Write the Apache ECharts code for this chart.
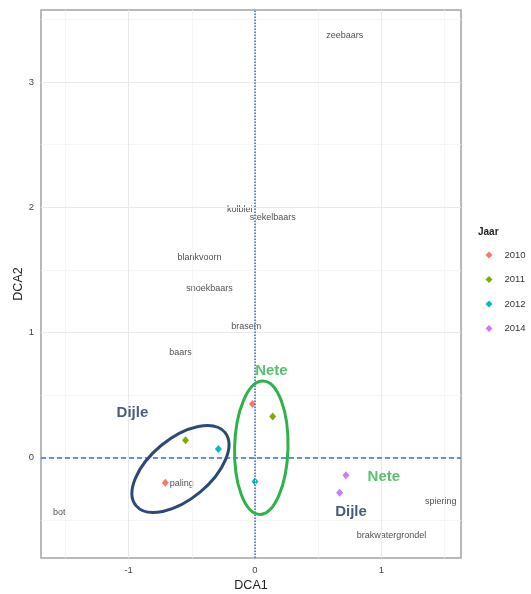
<!DOCTYPE html>
<html>
<head>
<meta charset="utf-8">
<script src="https://cdn.jsdelivr.net/npm/echarts@6/dist/echarts.min.js"></script>
<style>html,body{margin:0;padding:0;background:#fff}</style>
</head>
<body>
<div id="dca-chart-container" style="width: 531px; height: 594px"></div>
<script>
// site scores per year (DCA1, DCA2)
var years = ["2010", "2011", "2012", "2014"];
var sites2010 = [[-0.02, 0.43], [-0.71, -0.20]];
var sites2011 = [[-0.55, 0.14], [0.14, 0.33]];
var sites2012 = [[-0.29, 0.07], [0.00, -0.19]];
var sites2014 = [[0.72, -0.14], [0.67, -0.28]];

// species scores
var speciesNames = ["zeebaars", "kolblei", "stekelbaars", "blankvoorn", "snoekbaars",
  "brasem", "baars", "paling", "bot", "spiering", "brakwatergrondel"];
var speciesX = [0.71, -0.12, 0.14, -0.44, -0.36, -0.07, -0.59, -0.58, -1.55, 1.47, 1.08];
var speciesY = [3.37, 1.98, 1.92, 1.60, 1.35, 1.05, 0.84, -0.21, -0.44, -0.35, -0.62];

// axis ticks / grid
var xTicks = [-1, 0, 1];
var xMinor = [-1.5, -0.5, 0.5, 1.5];
var yTicks = [0, 1, 2, 3];
var yMinor = [-0.5, 0.5, 1.5, 2.5, 3.5];

// river annotations (hand drawn on top of the plot)
var riverNames = ["Dijle", "Nete", "Nete", "Dijle"];
var riverX = [-0.97, 0.13, 1.02, 0.76];
var riverY = [0.36, 0.69, -0.15, -0.43];
var ringNames = ["Dijle", "Nete"];
var ringX = [-0.59, 0.05];
var ringY = [-0.09, 0.08];

var colors = ["#F8766D", "#7CAE00", "#00BFC4", "#C77CFF"];
var riverColor = { Dijle: "#1b2f5e", Nete: "#2fb04c" };
var ringStyle = {
  Dijle: { rx: 57.6, ry: 30.4, angle: 39.5, color: "#2c4a78" },
  Nete: { rx: 26.7, ry: 66.7, angle: -1.5, color: "#2eb24a" },
};
var font = "Liberation Sans, Arial, sans-serif";

function gridLines(values, axis, color, width) {
  return values.map(function (v) {
    var item = { lineStyle: { color: color, width: width, type: "solid" } };
    item[axis] = v;
    return item;
  });
}

var sitesByYear = [sites2010, sites2011, sites2012, sites2014];

var yearSeries = years.map(function (y, i) {
  return {
    name: y,
    type: "scatter",
    symbol: "diamond",
    symbolSize: [7, 8],
    z: 3,
    itemStyle: { color: colors[i], opacity: 1 },
    data: sitesByYear[i],
  };
});

var option = {
  animation: false,
  backgroundColor: "#fff",
  title: {
    text: "Jaar",
    left: 478,
    top: 227,
    padding: 0,
    textStyle: { fontFamily: font, fontSize: 10, fontWeight: "bold", color: "#222" },
  },
  legend: {
    data: years,
    orient: "vertical",
    left: 485.5,
    top: 250,
    padding: 0,
    itemWidth: 7,
    itemHeight: 7,
    itemGap: 14.5,
    textStyle: { fontFamily: font, fontSize: 9.5, color: "#333", padding: [0, 0, 0, 7] },
  },
  grid: {
    left: 41,
    right: 70,
    top: 10,
    bottom: 36,
    outerBoundsMode: "none",
    containLabel: false,
    show: true,
    borderColor: "#a3a3a3",
    borderWidth: 1.5,
    backgroundColor: "#fff",
  },
  xAxis: {
    type: "value",
    min: -1.694,
    max: 1.631,
    name: "DCA1",
    nameLocation: "middle",
    nameGap: 21,
    nameMoveOverlap: false,
    nameTextStyle: { fontFamily: font, fontSize: 12.5, color: "#222" },
    axisLine: { show: false },
    axisTick: { show: true, length: 3, customValues: xTicks, lineStyle: { color: "#444", width: 1 } },
    axisLabel: { customValues: xTicks, margin: 7, fontFamily: font, fontSize: 9.5, color: "#444" },
    splitLine: { show: false },
  },
  yAxis: {
    type: "value",
    min: -0.801,
    max: 3.576,
    name: "DCA2",
    nameLocation: "middle",
    nameGap: 16,
    nameMoveOverlap: false,
    nameTextStyle: { fontFamily: font, fontSize: 12.5, color: "#222" },
    axisLine: { show: false },
    axisTick: { show: true, length: 3, customValues: yTicks, lineStyle: { color: "#444", width: 1 } },
    axisLabel: { customValues: yTicks, margin: 7, fontFamily: font, fontSize: 9.5, color: "#444" },
    splitLine: { show: false },
  },
  series: [
    {
      name: "grid",
      type: "scatter",
      data: [],
      z: 1,
      markLine: {
        silent: true,
        symbol: "none",
        label: { show: false },
        data: []
          .concat(gridLines(xMinor, "xAxis", "#f4f4f4", 0.8))
          .concat(gridLines(yMinor, "yAxis", "#f4f4f4", 0.8))
          .concat(gridLines(xTicks, "xAxis", "#e9e9e9", 1))
          .concat(gridLines(yTicks, "yAxis", "#e9e9e9", 1))
          .concat([
            { xAxis: 0, lineStyle: { color: "#3f6fc4", width: 1.6, type: [1.5, 1.5] } },
            { yAxis: 0, lineStyle: { color: "#3f6fc4", width: 1.6, type: [5, 3] } },
          ]),
      },
    },
    {
      name: "species",
      type: "scatter",
      symbolSize: 0,
      z: 2,
      silent: true,
      label: {
        show: true,
        position: "inside",
        formatter: function (p) { return p.data.name; },
        fontFamily: font,
        fontSize: 9,
        color: "#222",
      },
      data: speciesNames.map(function (n, i) {
        return { name: n, value: [speciesX[i], speciesY[i]] };
      }),
    },
  ]
    .concat(yearSeries)
    .concat([
      {
        name: "rings",
        type: "custom",
        z: 5,
        silent: true,
        renderItem: function (params, api) {
          var c = api.coord([api.value(0), api.value(1)]);
          var s = ringStyle[ringNames[params.dataIndex]];
          return {
            type: "ellipse",
            x: c[0],
            y: c[1],
            rotation: (s.angle * Math.PI) / 180,
            shape: { cx: 0, cy: 0, rx: s.rx, ry: s.ry },
            style: { fill: "none", stroke: s.color, lineWidth: 3 },
          };
        },
        data: ringX.map(function (x, i) { return [x, ringY[i]]; }),
      },
      {
        name: "rivers",
        type: "scatter",
        symbolSize: 0,
        z: 6,
        silent: true,
        label: {
          show: true,
          position: "inside",
          formatter: function (p) { return p.data.name; },
          fontFamily: font,
          fontSize: 15,
          fontWeight: "bold",
        },
        data: riverNames.map(function (n, i) {
          return { name: n, value: [riverX[i], riverY[i]], label: { color: riverColor[n] } };
        }),
      },
    ]),
};

var myChart = echarts.init(document.getElementById("dca-chart-container"));
myChart.setOption(option);
</script>
</body>
</html>
